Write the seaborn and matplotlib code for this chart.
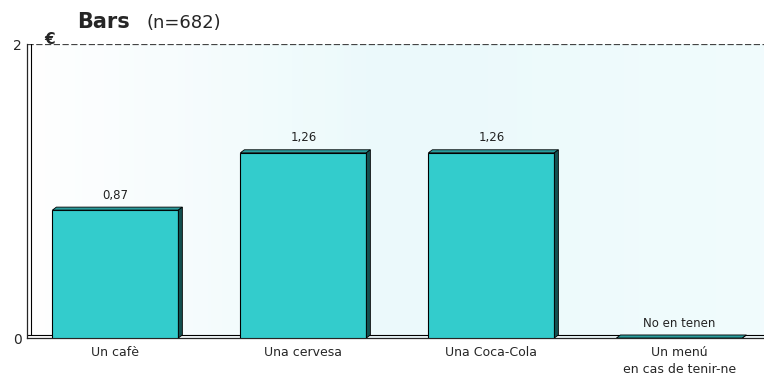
import numpy as np
import pandas as pd
import matplotlib
matplotlib.use("Agg")
import matplotlib.pyplot as plt
from matplotlib.patches import Polygon
import seaborn as sns

# Data
categories = ["Un cafè", "Una cervesa", "Una Coca-Cola", "Un menú\nen cas de tenir-ne"]
prices = [0.87, 1.26, 1.26, 0.0]
value_labels = ["0,87", "1,26", "1,26", "No en tenen"]

sns.set_style("white")
plt.rcParams["font.family"] = ["Verdana", "DejaVu Sans"]

fig = plt.figure(figsize=(7.64, 3.76), dpi=100)
ax = fig.add_axes([27 / 764, 38 / 376, 737 / 764, 294 / 376])

# faint background tint
grad = np.linspace(0, 1, 200).reshape(1, -1)
bg = matplotlib.colors.LinearSegmentedColormap.from_list("bg", ["#ffffff", "#e6f8fb", "#eefbfd"])
ax.imshow(grad, extent=[-0.47, 3.45, 0, 2], aspect="auto", cmap=bg, zorder=0, alpha=0.8)

df = pd.DataFrame({"cat": categories, "price": prices})
sns.barplot(data=df, x="cat", y="price", color="#33CCCC", saturation=1, width=0.67,
            edgecolor="black", linewidth=0.8, ax=ax, zorder=3)

ax.set_xlim(-0.47, 3.45)
ax.set_ylim(0, 2)

# pseudo 3D depth for each bar
dx = 4 * 3.92 / 737
dy = 3 * 2 / 294
for p in ax.patches:
    x0, w, h = p.get_x(), p.get_width(), p.get_height()
    top = Polygon([(x0, h), (x0 + dx, h + dy), (x0 + w + dx, h + dy), (x0 + w, h)],
                  closed=True, facecolor="#2a9c9c", edgecolor="black", linewidth=0.6, zorder=3)
    side = Polygon([(x0 + w, 0), (x0 + w + dx, dy), (x0 + w + dx, h + dy), (x0 + w, h)],
                   closed=True, facecolor="#145050", edgecolor="black", linewidth=0.6, zorder=3)
    ax.add_patch(top)
    ax.add_patch(side)

for i, (v, lab) in enumerate(zip(prices, value_labels)):
    ax.annotate(lab, (i, v), xytext=(0, 6), textcoords="offset points",
                ha="center", va="bottom", fontsize=8.5, color="#222222")

# walls and floor
ax.axhline(2, color="#444444", linestyle=(0, (5, 2)), linewidth=0.9, zorder=2)
ax.plot([-0.47, 3.45], [dy, dy], color="black", linewidth=0.8, zorder=2, clip_on=False)
ax.plot([-0.47 + dx, -0.47 + dx], [dy, 2], color="black", linewidth=0.8, zorder=2, clip_on=False)

sns.despine(ax=ax, top=True, right=True)
ax.spines["left"].set_linewidth(0.9)
ax.spines["bottom"].set_linewidth(0.9)

ax.set_yticks([0, 2])
ax.set_yticklabels(["0", "2"], fontsize=10)
ax.tick_params(axis="y", length=3, pad=1)
ax.tick_params(axis="x", length=0, labelsize=9, pad=6)
for t in ax.get_xticklabels():
    t.set_linespacing(1.35)
ax.set_xlabel("")
ax.set_ylabel("")

fig.text(44 / 764, 1 - 44 / 376, "€", fontsize=11, fontweight="bold", ha="left", va="baseline")
fig.text(77 / 764, 1 - 28 / 376, "Bars", fontsize=15, fontweight="bold", ha="left", va="baseline")
fig.text(146 / 764, 1 - 28 / 376, "(n=682)", fontsize=13, ha="left", va="baseline")

fig.savefig("out.png", dpi=100)
